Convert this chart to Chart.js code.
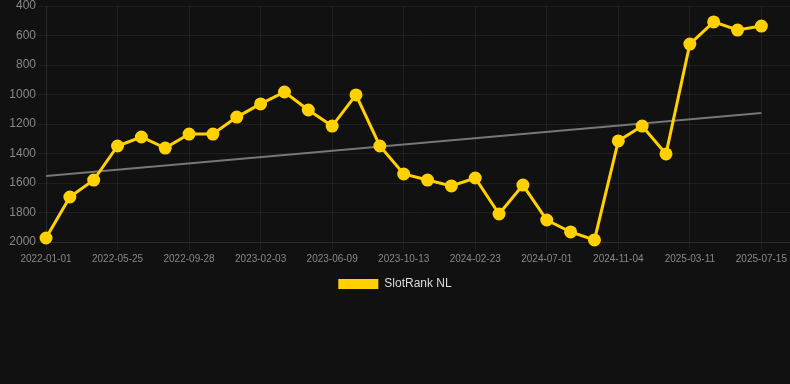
<!DOCTYPE html>
<html>
<head>
<meta charset="utf-8">
<script src="https://cdn.jsdelivr.net/npm/chart.js@4"></script>
<style>
  html, body { margin: 0; padding: 0; background: #111111; }
  #wrap { width: 790px; height: 300px; position: relative; }
</style>
</head>
<body>
<div id="wrap"><canvas id="rankChart"></canvas></div>
<script>
// dates of each sample
const dates = [
  '2022-01-01', '2022-02-18', '2022-04-07', '2022-05-25', '2022-07-06', '2022-08-17',
  '2022-09-28', '2022-11-09', '2022-12-22', '2023-02-03', '2023-03-17', '2023-04-28',
  '2023-06-09', '2023-07-21', '2023-09-01', '2023-10-13', '2023-11-26', '2024-01-09',
  '2024-02-23', '2024-04-05', '2024-05-18', '2024-07-01', '2024-08-12', '2024-09-23',
  '2024-11-04', '2024-12-16', '2025-01-27', '2025-03-11', '2025-04-22', '2025-06-03',
  '2025-07-15'
];

// rank values (lower is better)
const rankNL = [
  1973, 1695, 1580, 1349, 1288, 1363, 1268, 1268, 1153, 1064, 983, 1105,
  1214, 1003, 1349, 1539, 1580, 1620, 1566, 1810, 1614, 1851, 1932, 1986,
  1315, 1214, 1403, 658, 508, 563, 536
];

// trend line ends
const trendStart = 1553;
const trendEnd = 1125;

const yTicks = [400, 600, 800, 1000, 1200, 1400, 1600, 1800, 2000];

const rankPoints = rankNL.map((v, i) => ({ x: i, y: v }));
const trendPoints = [{ x: 0, y: trendStart }, { x: dates.length - 1, y: trendEnd }];

const grid = 'rgba(255,255,255,0.06)';

new Chart(document.getElementById('rankChart').getContext('2d'), {
  type: 'line',
  data: {
    datasets: [{
      label: 'SlotRank NL',
      data: rankPoints,
      borderColor: '#ffd100',
      backgroundColor: '#ffd100',
      borderWidth: 3,
      pointRadius: 5,
      pointHoverRadius: 6,
      tension: 0,
      clip: false
    }, {
      label: 'trend',
      data: trendPoints,
      borderColor: '#777777',
      borderWidth: 2,
      pointRadius: 0,
      tension: 0
    }]
  },
  options: {
    responsive: true,
    maintainAspectRatio: false,
    animation: false,
    layout: { autoPadding: false, padding: { top: 6, right: 0, bottom: 0, left: 0 } },
    plugins: {
      legend: {
        position: 'bottom',
        labels: {
          color: '#dddddd',
          boxWidth: 40,
          boxHeight: 10,
          font: { family: 'Arial, "Liberation Sans", sans-serif', size: 12 },
          filter: item => item.text !== 'trend',
          generateLabels: chart => Chart.defaults.plugins.legend.labels.generateLabels(chart)
            .map(l => Object.assign(l, { lineWidth: 0 }))
        }
      },
      tooltip: { enabled: false }
    },
    scales: {
      x: {
        type: 'linear',
        min: 0,
        max: 31.2,
        grid: { color: grid },
        border: { color: grid },
        afterFit: s => { s.paddingRight = 0; s.paddingLeft = 0; },
        ticks: {
          stepSize: 3,
          includeBounds: false,
          autoSkip: false,
          maxRotation: 0,
          color: '#888888',
          font: { family: 'Arial, "Liberation Sans", sans-serif', size: 10 },
          callback: v => dates[v] || ''
        }
      },
      y: {
        reverse: true,
        min: 400,
        max: 2000,
        grid: { color: grid },
        border: { color: grid },
        afterBuildTicks: s => { s.ticks = yTicks.map(v => ({ value: v })); },
        afterFit: s => { s.width = 46; s.paddingTop = 0; s.paddingBottom = 0; },
        ticks: {
          color: '#888888',
          padding: 2,
          font: { family: 'Arial, "Liberation Sans", sans-serif', size: 12 },
          callback: v => String(v)
        }
      }
    }
  }
});
</script>
</body>
</html>
